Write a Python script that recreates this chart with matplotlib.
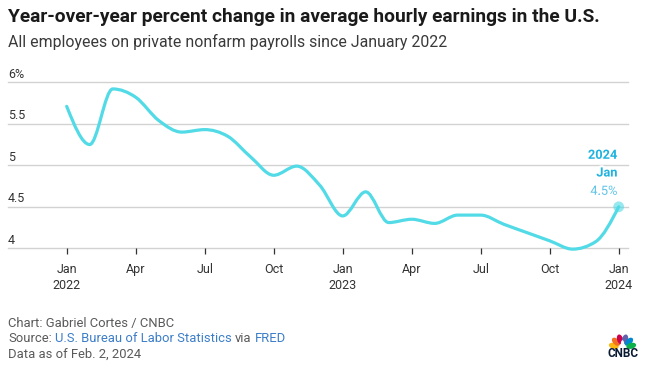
import numpy as np
import matplotlib
matplotlib.use("Agg")
import matplotlib.pyplot as plt
from matplotlib.path import Path
from matplotlib.patches import PathPatch, Ellipse
import matplotlib.transforms as mtransforms
import matplotlib.patheffects as pe

# ---------------- data ----------------
months = list(range(25))  # Jan 2022 .. Jan 2024
values = [5.71, 5.25, 5.92, 5.82, 5.54, 5.40, 5.43, 5.35, 5.10, 4.88, 4.99, 4.76,
          4.39, 4.68, 4.31, 4.35, 4.30, 4.40, 4.40, 4.29, 4.19, 4.09, 3.99, 4.08,
          4.50]
xtick_pos = [0, 3, 6, 9, 12, 15, 18, 21, 24]
xtick_month = ["Jan", "Apr", "Jul", "Oct", "Jan", "Apr", "Jul", "Oct", "Jan"]
xtick_year = ["2022", "", "", "", "2023", "", "", "", "2024"]
ytick_vals = [4, 4.5, 5, 5.5, 6]
ytick_labels = ["4", "4.5", "5", "5.5", "6%"]

title = "Year-over-year percent change in average hourly earnings in the U.S."
subtitle = "All employees on private nonfarm payrolls since January 2022"

W, H = 649, 374
FONT = "Roboto"
plt.rcParams['font.family'] = [FONT, 'DejaVu Sans']

LINE = "#52dbe6"
GRID = "#d2d2d2"
TXT = "#333333"
FOOT = "#5a5a5a"
LINK = "#3b7dc8"

fig = plt.figure(figsize=(W / 100, H / 100), dpi=100)
renderer = fig.canvas.get_renderer()

def fx(px):
    return px / W

def fy(py):
    return 1 - py / H

# axes: left 8px, right 628px, y=4 at 248.3px, y=6 at 82.3px
ax_l, ax_r, ax_b, ax_t = 8, 628, 248.3, 82.3
ax = fig.add_axes([fx(ax_l), fy(ax_b), (ax_r - ax_l) / W, (ax_b - ax_t) / H])
x0px, mpx = 66.7, 23.0
ax.set_xlim((ax_l - x0px) / mpx, (ax_r - x0px) / mpx)
ax.set_ylim(4, 6)
for s in ax.spines.values():
    s.set_visible(False)
ax.set_yticks([])
ax.set_xticks(xtick_pos)
ax.set_xticklabels([])
ax.tick_params(axis='x', length=4.0, width=0.9, color=TXT, pad=0, direction='out')

for v in ytick_vals:
    ax.axhline(v, color=GRID, lw=1.0, zorder=1, clip_on=False)

ytr = mtransforms.blended_transform_factory(ax.transAxes, ax.transData)
for v, lab in zip(ytick_vals, ytick_labels):
    ax.annotate(lab, (0, v), xycoords=ytr, xytext=(0, 3.4), textcoords='offset points',
                ha='left', va='baseline', fontsize=9, color=TXT)

xtr = mtransforms.blended_transform_factory(ax.transData, ax.transAxes)
for p, m, yr in zip(xtick_pos, xtick_month, xtick_year):
    ax.annotate(m, (p, 0), xycoords=xtr, xytext=(0, -25 * 0.72), textcoords='offset points',
                ha='center', va='baseline', fontsize=9, color=TXT)
    if yr:
        ax.annotate(yr, (p, 0), xycoords=xtr, xytext=(0, -41 * 0.72), textcoords='offset points',
                    ha='center', va='baseline', fontsize=9, color=TXT)

# monotone-x cubic curve (d3 curveMonotoneX)
def monotone_path(x, y):
    x = np.asarray(x, float); y = np.asarray(y, float)
    n = len(x)
    h = np.diff(x); s = np.diff(y) / h
    t = np.zeros(n)
    sg = lambda v: -1.0 if v < 0 else 1.0
    for i in range(1, n - 1):
        p = (s[i - 1] * h[i] + s[i] * h[i - 1]) / (h[i - 1] + h[i])
        t[i] = (sg(s[i - 1]) + sg(s[i])) * min(abs(s[i - 1]), abs(s[i]), 0.5 * abs(p))
    t[0] = (3 * s[0] - t[1]) / 2
    t[-1] = (3 * s[-1] - t[-2]) / 2
    verts = [(x[0], y[0])]
    codes = [Path.MOVETO]
    for i in range(n - 1):
        dx = (x[i + 1] - x[i]) / 3
        verts += [(x[i] + dx, y[i] + dx * t[i]), (x[i + 1] - dx, y[i + 1] - dx * t[i + 1]),
                  (x[i + 1], y[i + 1])]
        codes += [Path.CURVE4] * 3
    return Path(verts, codes)

ax.add_patch(PathPatch(monotone_path(months, values), facecolor='none', edgecolor=LINE,
                       lw=2.3, capstyle='round', joinstyle='round', zorder=3, clip_on=False))
ax.scatter([months[-1]], [values[-1]], s=60, color=LINE, alpha=0.6, edgecolor='none',
           zorder=4, clip_on=False)

# annotation
halo = [pe.withStroke(linewidth=3, foreground='white')]
ax.annotate("2024", (months[-1], values[-1]), xytext=(-1, (207.3 - 159.3) * 0.72),
            textcoords='offset points', ha='right', va='baseline', fontsize=9.2,
            fontweight='bold', color="#1fb3df", path_effects=halo)
ax.annotate("Jan", (months[-1], values[-1]), xytext=(-1, (207.3 - 177.0) * 0.72),
            textcoords='offset points', ha='right', va='baseline', fontsize=9.2,
            fontweight='bold', color="#1fb3df", path_effects=halo)
ax.annotate(f"{values[-1]:.1f}%", (months[-1], values[-1]), xytext=(-1, (207.3 - 195.3) * 0.72),
            textcoords='offset points', ha='right', va='baseline', fontsize=9.2,
            color="#62c4e6", path_effects=halo)

# text helpers
def fit_text(x_px, base_px, s, target_w, size0, **kw):
    t = fig.text(fx(x_px), fy(base_px), s, fontsize=size0, ha='left', va='baseline', **kw)
    w = t.get_window_extent(renderer).width
    t.set_fontsize(size0 * target_w / w)
    return t

fit_text(8, 21.5, title, 594, 11, fontweight='bold', color="#1a1a1a")
fit_text(8, 46.5, subtitle, 438, 10, color="#3a3a3a")
tc = fit_text(8, 327, "Chart: Gabriel Cortes / CNBC", 165, 8.5, color=FOOT)
fsz = tc.get_fontsize()

def width(s, size):
    t = fig.text(0, 0, s, fontsize=size)
    w = t.get_window_extent(renderer).width
    t.remove()
    return w

space = width("a a", fsz) - width("aa", fsz)
pieces = [("Source:", FOOT), ("U.S. Bureau of Labor Statistics", LINK), ("via", FOOT), ("FRED", LINK)]
xcur = 8
for s, c in pieces:
    fig.text(fx(xcur), fy(342), s, fontsize=fsz, color=c, ha='left', va='baseline')
    xcur += width(s, fsz) + space
fig.text(fx(8), fy(357.5), "Data as of Feb. 2, 2024", fontsize=fsz, color=FOOT,
         ha='left', va='baseline')

# CNBC logo (pixel-based inset: x 604..642, y 330..360)
lax = fig.add_axes([fx(604), fy(360), 38 / W, 30 / H])
lax.set_xlim(0, 38); lax.set_ylim(0, 30)
lax.axis('off')
cx, cy = 18.5, 12.0
colors = ["#fcb711", "#f37021", "#cc004c", "#6460aa", "#0089d0", "#0db14b"]
angles = [166, 136, 106, 74, 44, 14]
for a, c in zip(angles, colors):
    r = np.radians(a)
    lax.add_patch(Ellipse((cx + 9.0 * np.cos(r), cy + 9.0 * np.sin(r)), 10.0, 6.0, angle=a,
                          color=c, lw=0))
lax.add_patch(Ellipse((cx, cy + 3.8), 3.4, 8.0, color='white', lw=0))
tt = lax.text(cx, 3.0, "CNBC", ha='center', va='baseline', fontsize=8.5, fontweight='bold',
              color="#0b1a33")
w = tt.get_window_extent(renderer).width
tt.set_fontsize(8.5 * 31 / w)

fig.savefig("out.png", dpi=100)
